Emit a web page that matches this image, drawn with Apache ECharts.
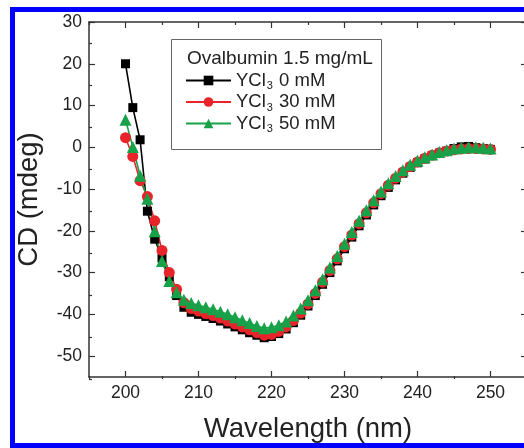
<!DOCTYPE html>
<html>
<head>
<meta charset="utf-8">
<script src="https://cdn.jsdelivr.net/npm/echarts@6/dist/echarts.min.js"></script>
<style>
  html, body { margin: 0; padding: 0; background: #fff; overflow: hidden; }
  /* the plot frame runs slightly past the right edge of the page */
  #chart { width: 530px; height: 448px; }
</style>
</head>
<body>
<div id="chart"></div>
<script>
// Wavelength grid (nm)
const wavelengths = [];
for (let w = 200; w <= 250; w++) wavelengths.push(w);

// CD spectra (mdeg), one value per nm from 200 to 250
const cd0mM = [
  20, 9.5, 1.8, -15.3, -22, -26.5, -31, -35.5, -38.3, -39.5,
  -40, -40.5, -41, -41.6, -42.3, -43, -43.7, -44.4, -45, -45.6,
  -45.3, -44.6, -43.5, -42, -40.2, -38, -35.5, -32.8, -30, -27.2,
  -24.3, -21.5, -18.8, -16.2, -13.8, -11.6, -9.6, -7.8, -6.2, -4.8,
  -3.7, -2.8, -2.0, -1.4, -0.9, -0.3, 0.1, 0.2, -0.1, -0.3,
  -0.5
];
const cd30mM = [
  2.3, -2.2, -8, -11.8, -17.6, -24.7, -30, -34, -37.2, -38.6,
  -39.2, -39.8, -40.3, -40.9, -41.6, -42.3, -43, -43.7, -44.4, -45,
  -44.8, -44.1, -43, -41.5, -39.7, -37.5, -35, -32.3, -29.5, -26.7,
  -23.8, -21, -18.3, -15.7, -13.3, -11.1, -9.1, -7.4, -5.9, -4.6,
  -3.5, -2.6, -1.9, -1.3, -0.9, -0.6, -0.4, -0.3, -0.3, -0.4,
  -0.5
];
const cd50mM = [
  6.6, 0.1, -6.8, -12.3, -20.1, -27.2, -32, -34.7, -36.5, -37.3,
  -37.8, -38.3, -38.8, -39.4, -40, -40.7, -41.4, -42.1, -42.8, -43.3,
  -43.1, -42.6, -41.7, -40.3, -38.6, -36.6, -34.2, -31.6, -28.8, -26,
  -23.1, -20.3, -17.6, -15.1, -12.7, -10.6, -8.6, -6.9, -5.5, -4.2,
  -3.2, -2.4, -1.7, -1.1, -0.7, -0.3, -0.1, 0, 0, -0.1,
  -0.3
];

// Tick positions
const xMajorTicks = [200, 210, 220, 230, 240, 250];
const xMinorTicks = [195, 205, 215, 225, 235, 245, 255];
const yMajorTicks = [-50, -40, -30, -20, -10, 0, 10, 20, 30];
const yMinorTicks = [-55, -45, -35, -25, -15, -5, 5, 15, 25];

const seriesNames = ['0 mM', '30 mM', '50 mM'];
const legendTitle = 'Ovalbumin 1.5 mg/mL';

const FONT = 'Liberation Sans, Arial, sans-serif';
const AXIS_COLOR = '#333';
const TEXT_COLOR = '#222';

function pairs(ys) {
  return wavelengths.map((w, i) => [w, ys[i]]);
}

const X_RANGE = { type: 'value', min: 195, max: 255, interval: 5, splitLine: { show: false } };
const Y_RANGE = { type: 'value', min: -55, max: 30, interval: 5, splitLine: { show: false } };

const lineStyle = { color: AXIS_COLOR, width: 1.5 };
const tickStyle = { color: AXIS_COLOR, width: 1.2 };

// major ticks on the framed grid, with labels on bottom/left only
function majorAxis(range, position, ticks, labelled, extra) {
  return Object.assign({}, range, {
    gridIndex: 0, position,
    axisLine: { show: true, onZero: false, lineStyle },
    axisTick: { show: true, inside: true, length: 6, lineStyle: tickStyle, customValues: ticks },
    axisLabel: labelled
      ? { show: true, customValues: ticks, fontFamily: FONT, fontSize: 17.5, color: TEXT_COLOR, margin: 7 }
      : { show: false }
  }, extra || {});
}
// short minor ticks on an overlaid grid of identical size
function minorAxis(range, position, ticks) {
  return Object.assign({}, range, {
    gridIndex: 1, position,
    axisLine: { show: false, onZero: false },
    axisTick: { show: true, inside: true, length: 3, lineStyle: tickStyle, customValues: ticks },
    axisLabel: { show: false }
  });
}

const chart = echarts.init(document.getElementById('chart'), null, { renderer: 'canvas' });

const makeSeries = (name, data, color, symbol, size) => ({
  name, type: 'line', data: pairs(data),
  xAxisIndex: 0, yAxisIndex: 0,
  symbol, symbolSize: size,
  lineStyle: { color, width: 1.6 },
  itemStyle: { color, borderWidth: 0 },
  emphasis: { disabled: true },
  animation: false
});

const gridBox = { left: 89, right: 3, top: 22, bottom: 69, containLabel: false };

chart.setOption({
  animation: false,
  backgroundColor: '#fff',
  grid: [Object.assign({}, gridBox), Object.assign({}, gridBox)],
  xAxis: [
    majorAxis(X_RANGE, 'bottom', xMajorTicks, true, {
      name: 'Wavelength (nm)', nameLocation: 'middle', nameGap: 38,
      nameTextStyle: { fontFamily: FONT, fontSize: 27.5, color: TEXT_COLOR }
    }),
    majorAxis(X_RANGE, 'top', xMajorTicks, false),
    minorAxis(X_RANGE, 'bottom', xMinorTicks),
    minorAxis(X_RANGE, 'top', xMinorTicks)
  ],
  yAxis: [
    majorAxis(Y_RANGE, 'left', yMajorTicks, true, {
      name: 'CD (mdeg)', nameLocation: 'middle', nameGap: 46,
      nameTextStyle: { fontFamily: FONT, fontSize: 27.5, color: TEXT_COLOR }
    }),
    majorAxis(Y_RANGE, 'right', yMajorTicks, false),
    minorAxis(Y_RANGE, 'left', yMinorTicks),
    minorAxis(Y_RANGE, 'right', yMinorTicks)
  ],
  legend: {
    orient: 'vertical', left: 185, top: 71, padding: 0,
    itemWidth: 45, itemHeight: 12, itemGap: 1,
    data: seriesNames,
    formatter: name => '{a|YCl}{s|3}{a| ' + name + '}',
    textStyle: {
      fontFamily: FONT, color: TEXT_COLOR,
      rich: {
        a: { fontFamily: FONT, fontSize: 18.5, color: TEXT_COLOR, lineHeight: 22 },
        s: { fontFamily: FONT, fontSize: 11, color: TEXT_COLOR, lineHeight: 22, verticalAlign: 'bottom', padding: [0, 1, 0, 1] }
      }
    },
    selectedMode: false
  },
  graphic: [
    {
      type: 'rect', silent: true, z: 100,
      shape: { x: 171.5, y: 39.5, width: 210, height: 110 },
      style: { fill: 'none', stroke: '#666', lineWidth: 1 }
    },
    {
      type: 'text', silent: true, z: 100,
      style: { x: 187, y: 59, text: legendTitle, font: '19px ' + FONT, fill: TEXT_COLOR, textVerticalAlign: 'middle' }
    },
    {
      type: 'rect', silent: true, z: 100,
      shape: { x: 12.5, y: 9.5, width: 540, height: 436 },
      style: { fill: 'none', stroke: '#0000ff', lineWidth: 5 }
    }
  ],
  series: [
    makeSeries(seriesNames[0], cd0mM, '#000000', 'rect', 9),
    makeSeries(seriesNames[1], cd30mM, '#e8242a', 'circle', 11),
    makeSeries(seriesNames[2], cd50mM, '#17a24a', 'triangle', 12)
  ]
});
</script>
</body>
</html>
